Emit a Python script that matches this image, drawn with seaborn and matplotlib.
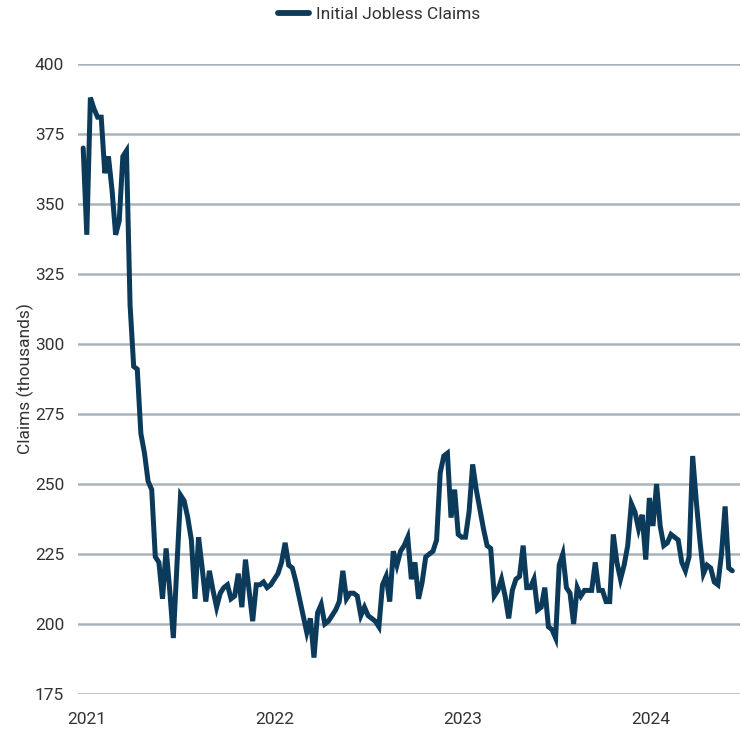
import numpy as np
import pandas as pd
import matplotlib
matplotlib.use("Agg")
import matplotlib.pyplot as plt
import seaborn as sns

# ---- data (weekly, thousands) ----
start_date = "2020-12-26"
claims = [
    370, 339, 388, 384, 381, 381, 361, 367, 355, 339,
    344, 367, 369, 314, 292, 291, 268, 261, 251, 248,
    224, 222, 209, 227, 212, 195, 221, 246, 244, 238,
    230, 209, 231, 220, 208, 219, 212, 206, 211, 213,
    214, 209, 210, 218, 206, 223, 212, 201, 214, 214,
    215, 213, 214, 216, 218, 222, 229, 221, 220, 215,
    209, 203, 197, 202, 188, 204, 207, 200, 201, 203,
    205, 208, 219, 209, 211, 211, 210, 203, 206, 203,
    202, 201, 199, 214, 217, 208, 226, 221, 226, 228,
    231, 216, 222, 209, 215, 224, 225, 226, 230, 254,
    260, 261, 238, 248, 232, 231, 231, 240, 257, 248,
    241, 234, 228, 227, 210, 212, 216, 210, 202, 212,
    216, 217, 228, 213, 213, 216, 205, 206, 213, 199,
    198, 195, 221, 225, 213, 211, 200, 213, 210, 212,
    212, 212, 222, 212, 212, 208, 208, 232, 222, 216,
    221, 228, 243, 240, 234, 239, 223, 245, 235, 250,
    235, 228, 229, 232, 231, 230, 222, 219, 224, 260,
    244, 230, 218, 221, 220, 215, 214, 225, 242, 220,
    219,
]
series_name = "Initial Jobless Claims"
y_ticks = [175, 200, 225, 250, 275, 300, 325, 350, 375, 400]
year_ticks = ["2021", "2022", "2023", "2024"]

dates = pd.date_range(start_date, periods=len(claims), freq="7D")
df = pd.DataFrame({"date": dates, "value": claims, "series": series_name})

sns.set_theme(style="white")
plt.rcParams["font.family"] = ["Roboto", "DejaVu Sans"]

line_color = "#0b3a5b"
text_color = "#333333"
grid_color = "#a9b4bd"

fig = plt.figure(figsize=(7.41, 7.33), dpi=100)
ax = fig.add_axes([0.1053, 0.0532, 0.8934, 0.8595])

sns.lineplot(data=df, x="date", y="value", hue="series",
             palette=[line_color], linewidth=3.6, ax=ax, legend=True,
             solid_joinstyle="miter")

ax.set_ylim(175, 400)
ax.set_yticks(y_ticks)
ax.set_xlim(pd.Timestamp("2020-12-16"), pd.Timestamp("2024-06-23"))
ax.set_xticks([pd.Timestamp(f"{y}-01-01") for y in year_ticks])
ax.set_xticklabels(year_ticks)

ax.grid(axis="y", color=grid_color, linewidth=1.8)
ax.grid(axis="x", visible=False)
ax.set_axisbelow(True)
for s in ax.spines.values():
    s.set_visible(False)

ax.tick_params(axis="both", length=0, labelsize=12.5, colors=text_color)
ax.tick_params(axis="y", pad=10)
ax.tick_params(axis="x", pad=13)
ax.set_xlabel("")
ax.set_ylabel("Claims (thousands)", fontsize=12.5, color=text_color)
ax.yaxis.set_label_coords(-0.066, 0.5)

handles, labels = ax.get_legend_handles_labels()
ax.get_legend().remove()
for h in handles:
    h.set_linewidth(4.2)
fig.legend(handles, labels, loc="upper center", bbox_to_anchor=(0.512, 1.012),
           frameon=False, fontsize=12.5, handlelength=1.8, handletextpad=0.4,
           labelcolor=text_color)

fig.savefig("out.png", dpi=100)
